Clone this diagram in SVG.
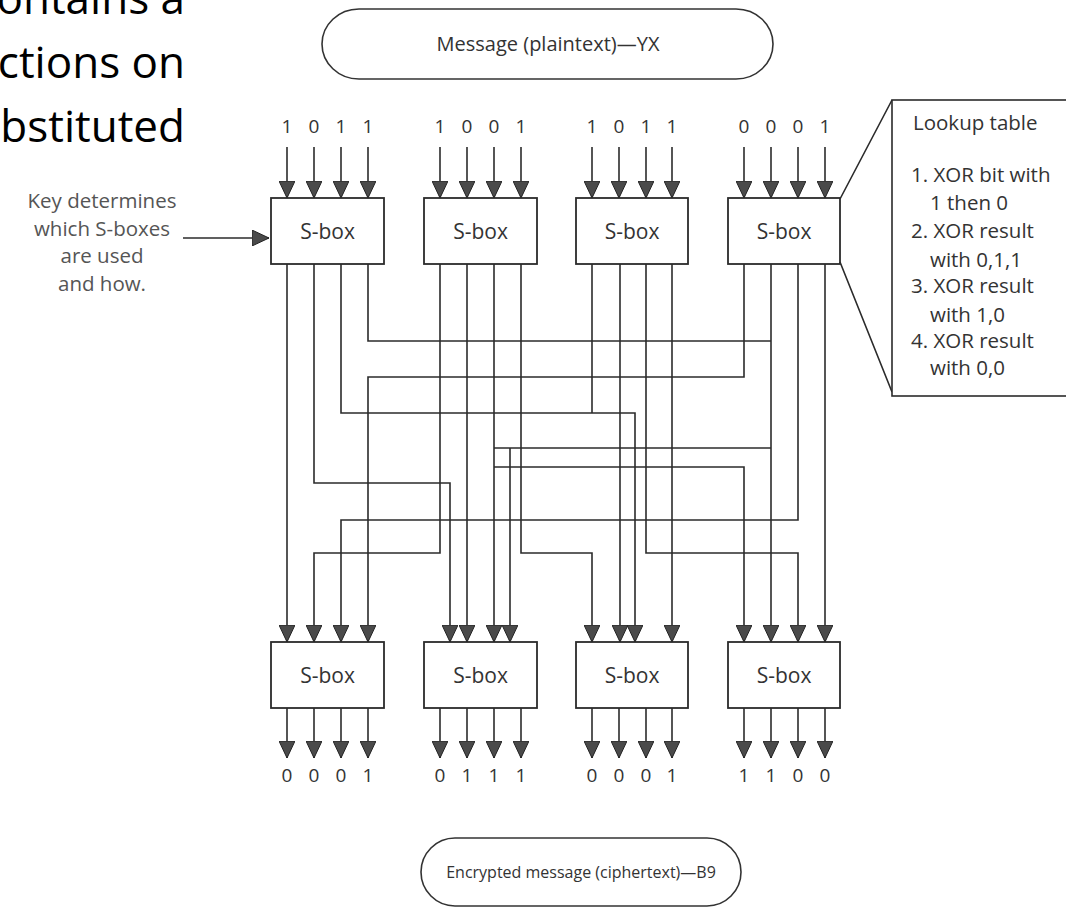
<svg xmlns="http://www.w3.org/2000/svg" width="1066" height="920" viewBox="0 0 1066 920">
<defs>
<marker id="ah" viewBox="0 0 17 16" refX="17" refY="8" markerWidth="17" markerHeight="16" markerUnits="userSpaceOnUse" orient="auto"><path d="M0,0 L17,8 L0,16 Z" fill="#4a4a4a" stroke="#222" stroke-width="1"/></marker>
</defs>
<style>
.w{fill:none;stroke:#2b2b2b;stroke-width:1.6}
.a{marker-end:url(#ah)}
.box{fill:#fff;stroke:#2b2b2b;stroke-width:1.8}
.pill{fill:#fff;stroke:#333;stroke-width:1.6}
.t{font-family:"Open Sans","Liberation Sans",sans-serif;fill:#333;font-size:19px}
.c{text-anchor:middle}
.sb{font-size:21px}
.lk{font-size:20.5px}
.big{font-family:"Open Sans","Liberation Sans",sans-serif;font-size:44px;fill:#000;text-anchor:end}
.k{fill:#555;font-size:20.5px}
</style>
<rect x="0" y="0" width="1066" height="920" fill="#fff"/>

<g id="slide-text">
<text class="big" x="185" y="14">ontains a</text>
<text class="big" x="185" y="78">ctions on</text>
<text class="big" x="185" y="142">bstituted</text>
</g>

<g id="plaintext">
<rect class="pill" x="322" y="9" width="451" height="70" rx="37" ry="35"/>
<text class="t c" x="548" y="51" style="font-size:20px">Message (plaintext)—YX</text>
</g>

<g id="key-note">
<text class="t c k" x="102" y="208">Key determines</text>
<text class="t c k" x="102" y="236">which S-boxes</text>
<text class="t c k" x="102" y="263">are used</text>
<text class="t c k" x="102" y="291">and how.</text>
<path class="w a" d="M183,238 H269"/>
</g>

<g id="input-bits" class="t c">
<text x="287" y="133">1</text><text x="314" y="133">0</text><text x="341" y="133">1</text><text x="368" y="133">1</text>
<text x="440" y="133">1</text><text x="467" y="133">0</text><text x="494" y="133">0</text><text x="521" y="133">1</text>
<text x="592" y="133">1</text><text x="619" y="133">0</text><text x="646" y="133">1</text><text x="672" y="133">1</text>
<text x="744" y="133">0</text><text x="771" y="133">0</text><text x="798" y="133">0</text><text x="825" y="133">1</text>
</g>

<g id="input-arrows">
<path class="w a" d="M287,147 V198"/><path class="w a" d="M314,147 V198"/><path class="w a" d="M341,147 V198"/><path class="w a" d="M368,147 V198"/>
<path class="w a" d="M440,147 V198"/><path class="w a" d="M467,147 V198"/><path class="w a" d="M494,147 V198"/><path class="w a" d="M521,147 V198"/>
<path class="w a" d="M592,147 V198"/><path class="w a" d="M619,147 V198"/><path class="w a" d="M646,147 V198"/><path class="w a" d="M672,147 V198"/>
<path class="w a" d="M744,147 V198"/><path class="w a" d="M771,147 V198"/><path class="w a" d="M798,147 V198"/><path class="w a" d="M825,147 V198"/>
</g>

<g id="connectors">
<path class="w a" d="M287,264 V642"/>
<path class="w a" d="M314,264 V483 H450 V642"/>
<path class="w a" d="M341,264 V413 H635 V642"/>
<path class="w" d="M368,264 V341 H771"/>
<path class="w a" d="M440,264 V553 H314 V642"/>
<path class="w a" d="M467,264 V642"/>
<path class="w a" d="M494,264 V642"/>
<path class="w a" d="M521,264 V553 H592 V642"/>
<path class="w" d="M592,264 V413"/>
<path class="w a" d="M620,264 V642"/>
<path class="w a" d="M646,264 V553 H798 V642"/>
<path class="w a" d="M672,264 V642"/>
<path class="w a" d="M744,264 V377 H368 V642"/>
<path class="w a" d="M771,264 V642"/>
<path class="w a" d="M798,264 V520 H341 V642"/>
<path class="w a" d="M825,264 V642"/>
<path class="w" d="M494,448 H771"/>
<path class="w a" d="M510,448 V642"/>
<path class="w a" d="M494,467 H744 V642"/>
</g>

<g id="sbox-top-1"><rect class="box" x="271" y="198" width="113" height="66"/><text class="t c sb" x="327.5" y="239">S-box</text></g>
<g id="sbox-top-2"><rect class="box" x="424" y="198" width="113" height="66"/><text class="t c sb" x="480.5" y="239">S-box</text></g>
<g id="sbox-top-3"><rect class="box" x="576" y="198" width="112" height="66"/><text class="t c sb" x="632" y="239">S-box</text></g>
<g id="sbox-top-4"><rect class="box" x="728" y="198" width="112" height="66"/><text class="t c sb" x="784" y="239">S-box</text></g>

<g id="sbox-bot-1"><rect class="box" x="271" y="642" width="113" height="66"/><text class="t c sb" x="327.5" y="683">S-box</text></g>
<g id="sbox-bot-2"><rect class="box" x="424" y="642" width="113" height="66"/><text class="t c sb" x="480.5" y="683">S-box</text></g>
<g id="sbox-bot-3"><rect class="box" x="576" y="642" width="112" height="66"/><text class="t c sb" x="632" y="683">S-box</text></g>
<g id="sbox-bot-4"><rect class="box" x="728" y="642" width="112" height="66"/><text class="t c sb" x="784" y="683">S-box</text></g>

<g id="output-arrows">
<path class="w a" d="M287,708 V758"/><path class="w a" d="M314,708 V758"/><path class="w a" d="M341,708 V758"/><path class="w a" d="M368,708 V758"/>
<path class="w a" d="M440,708 V758"/><path class="w a" d="M467,708 V758"/><path class="w a" d="M494,708 V758"/><path class="w a" d="M521,708 V758"/>
<path class="w a" d="M592,708 V758"/><path class="w a" d="M619,708 V758"/><path class="w a" d="M646,708 V758"/><path class="w a" d="M672,708 V758"/>
<path class="w a" d="M744,708 V758"/><path class="w a" d="M771,708 V758"/><path class="w a" d="M798,708 V758"/><path class="w a" d="M825,708 V758"/>
</g>

<g id="output-bits" class="t c">
<text x="287" y="782">0</text><text x="314" y="782">0</text><text x="341" y="782">0</text><text x="368" y="782">1</text>
<text x="440" y="782">0</text><text x="467" y="782">1</text><text x="494" y="782">1</text><text x="521" y="782">1</text>
<text x="592" y="782">0</text><text x="619" y="782">0</text><text x="646" y="782">0</text><text x="672" y="782">1</text>
<text x="744" y="782">1</text><text x="771" y="782">1</text><text x="798" y="782">0</text><text x="825" y="782">0</text>
</g>

<g id="lookup-table">
<path class="w" d="M840,199 L892,100 M840,262 L892,392"/>
<rect x="892" y="100" width="200" height="296" fill="#fff" stroke="#2b2b2b" stroke-width="1.6"/>
<text class="t lk" x="913" y="130">Lookup table</text>
<text class="t lk" x="911" y="182">1. XOR bit with</text>
<text class="t lk" x="930" y="210">1 then 0</text>
<text class="t lk" x="911" y="238">2. XOR result</text>
<text class="t lk" x="930" y="267">with 0,1,1</text>
<text class="t lk" x="911" y="293">3. XOR result</text>
<text class="t lk" x="930" y="322">with 1,0</text>
<text class="t lk" x="911" y="348">4. XOR result</text>
<text class="t lk" x="930" y="375">with 0,0</text>
</g>

<g id="ciphertext">
<rect class="pill" x="421" y="838" width="320" height="68" rx="34" ry="34"/>
<text class="t c" x="581" y="878" style="font-size:16px">Encrypted message (ciphertext)—B9</text>
</g>
</svg>
